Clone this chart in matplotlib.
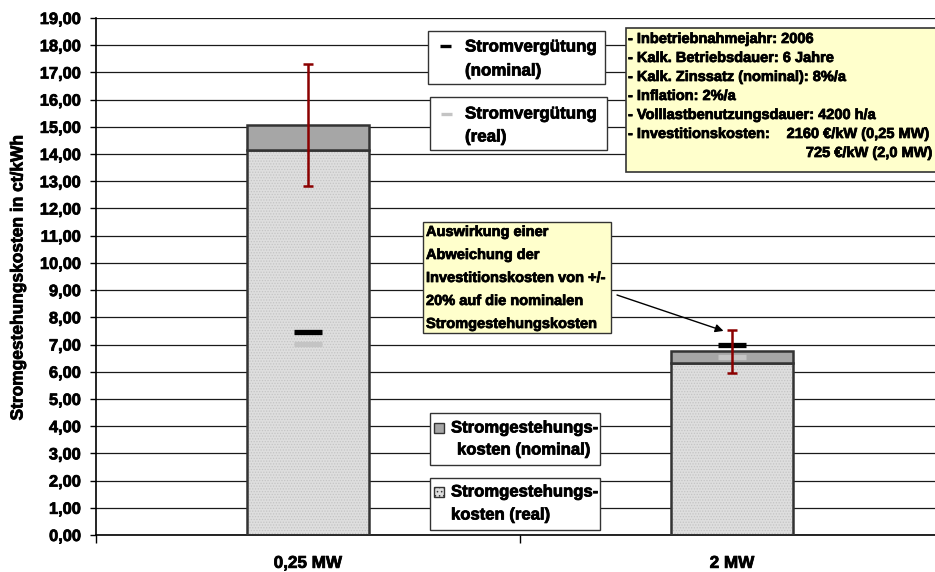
import os, glob
import matplotlib
matplotlib.use("Agg")
import matplotlib.pyplot as plt
from matplotlib import font_manager as fm
from matplotlib import patheffects as pe
from matplotlib.patches import Rectangle
from matplotlib.lines import Line2D
from matplotlib.ticker import FuncFormatter, FixedLocator

# ---- find a bold Arial-like font file ----
def find_bold():
    for name in ['Liberation Sans', 'Arimo', 'Noto Sans', 'Roboto', 'Open Sans', 'Lato', 'Inter']:
        for f in fm.fontManager.ttflist:
            b = os.path.basename(f.fname).lower()
            if f.name == name and 'bold' in b and 'italic' not in b and 'oblique' not in b \
                    and 'semi' not in b and 'extra' not in b:
                return f.fname
    for pat in ['/usr/share/fonts/**/LiberationSans-Bold.ttf', '/usr/share/fonts/**/*Bold.ttf']:
        g = glob.glob(pat, recursive=True)
        if g:
            return g[0]
    return None

BOLD_PATH = find_bold()

def fp(size):
    if BOLD_PATH:
        return fm.FontProperties(fname=BOLD_PATH, size=size)
    return fm.FontProperties(family='DejaVu Sans', weight='bold', size=size)

HEAVY = [pe.Stroke(linewidth=0.55, foreground='black'), pe.Normal()]

plt.rcParams['hatch.linewidth'] = 0.6

# ---- data ----
categories = ["0,25 MW", "2 MW"]
real_costs = [14.15, 6.33]          # Stromgestehungskosten (real)
nominal_costs = [15.08, 6.75]       # Stromgestehungskosten (nominal)
payment_nominal = [7.45, 6.97]      # Stromvergütung (nominal)
payment_real = [7.01, 6.54]         # Stromvergütung (real)
invest_dev = [2.24, 0.80]           # +/- 20 % Investitionskosten
y_ticks = list(range(0, 20))

W, H = 935, 572
fig = plt.figure(figsize=(W / 100, H / 100), dpi=100)
ax = fig.add_axes([96 / W, 37 / H, 848 / W, 517 / H])

x = [0.5, 1.5]
bw = 0.29
dark = '#333333'

# grid
for t in y_ticks:
    ax.axhline(t, color='#1a1a1a', lw=0.9, zorder=0)

# real part (hatched)
ax.bar(x, real_costs, width=bw, color='#dedede', edgecolor='#c4c4c4',
       hatch='......', linewidth=0, zorder=2)
ax.bar(x, real_costs, width=bw, fill=False, edgecolor=dark, linewidth=1.8, zorder=3)
# nominal part on top
diff = [n - r for n, r in zip(nominal_costs, real_costs)]
ax.bar(x, diff, bottom=real_costs, width=bw, color='#a6a6a6', edgecolor=dark,
       linewidth=1.8, zorder=3)

# Stromvergütung markers
ax.plot(x, payment_real, linestyle='none', marker='_', markersize=20,
        markeredgewidth=3.8, color='#c4c4c4', zorder=4)
ax.plot(x, payment_nominal, linestyle='none', marker='_', markersize=20,
        markeredgewidth=3.8, color='black', zorder=5)

# error bars
ax.errorbar(x, nominal_costs, yerr=invest_dev, fmt='none', ecolor='#8b0000',
            elinewidth=1.8, capsize=3.3, capthick=1.8, zorder=6)

ax.set_xlim(0, 2)
ax.set_ylim(0, 19)
for s in ['top', 'right']:
    ax.spines[s].set_visible(False)
ax.spines['left'].set_color('black')
ax.spines['bottom'].set_color('black')
ax.spines['left'].set_linewidth(1.2)
ax.spines['bottom'].set_linewidth(1.2)

ax.set_yticks(y_ticks)
ax.yaxis.set_major_formatter(FuncFormatter(lambda v, p: f"{v:.2f}".replace('.', ',')))
ax.tick_params(axis='y', direction='out', length=4.5, width=1, pad=6.5, color='black')
ax.xaxis.set_major_locator(FixedLocator([0, 1, 2]))
ax.xaxis.set_minor_locator(FixedLocator(x))
ax.set_xticklabels([], minor=False)
ax.set_xticklabels(categories, minor=True)
ax.tick_params(axis='x', which='major', direction='out', length=6, width=1, color='black')
ax.tick_params(axis='x', which='minor', length=0, pad=15)
for lab in ax.get_yticklabels():
    lab.set_fontproperties(fp(11.8))
    lab.set_path_effects(HEAVY)
for lab in ax.get_xticklabels(minor=True):
    lab.set_fontproperties(fp(12.3))
    lab.set_path_effects(HEAVY)

# helpers in pixel coordinates
def prect(x0, y0, x1, y1, **kw):
    r = Rectangle((x0 / W, 1 - y1 / H), (x1 - x0) / W, (y1 - y0) / H,
                  transform=fig.transFigure, **kw)
    fig.add_artist(r)
    return r

def ptext(xp, yp, s, size, **kw):
    kw.setdefault('va', 'center')
    kw.setdefault('ha', 'left')
    t = fig.text(xp / W, 1 - yp / H, s, fontproperties=fp(size), **kw)
    t.set_path_effects(HEAVY)
    return t

def pline(x0, x1, yp, **kw):
    fig.add_artist(Line2D([x0 / W, x1 / W], [1 - yp / H, 1 - yp / H],
                          transform=fig.transFigure, **kw))

# y label
ptext(18, 277, "Stromgestehungskosten in ct/kWh", 12.5, rotation=90, ha='center')

# legend boxes (Stromvergütung)
prect(428, 31, 605, 84, facecolor='white', edgecolor=dark, lw=1, zorder=10)
pline(440, 451, 46, color='black', lw=2.4, zorder=11, solid_capstyle='butt')
ptext(465, 47, "Stromvergütung", 12.2, zorder=11)
ptext(465, 71, "(nominal)", 12.2, zorder=11)

prect(430, 97, 607, 150, facecolor='white', edgecolor=dark, lw=1, zorder=10)
pline(441, 452, 114, color='#c4c4c4', lw=2.4, zorder=11, solid_capstyle='butt')
ptext(465, 114, "Stromvergütung", 12.2, zorder=11)
ptext(465, 137, "(real)", 12.2, zorder=11)

# legend boxes (Stromgestehungskosten)
prect(430, 413, 600, 465, facecolor='white', edgecolor=dark, lw=1, zorder=10)
prect(434, 423, 444, 433, facecolor='#a6a6a6', edgecolor=dark, lw=1, zorder=11)
ptext(451, 428, "Stromgestehungs-", 12, zorder=11)
ptext(457, 450, "kosten (nominal)", 12, zorder=11)

prect(430, 478, 600, 530, facecolor='white', edgecolor=dark, lw=1, zorder=10)
prect(434, 487, 444, 497, facecolor='#dedede', edgecolor=dark, lw=1,
      hatch='....', zorder=11)
ptext(451, 492, "Stromgestehungs-", 12, zorder=11)
ptext(451, 515, "kosten (real)", 12, zorder=11)

# info box
prect(626, 28, 965, 172, facecolor='#ffffcc', edgecolor=dark, lw=1.2, zorder=10)
info = ["- Inbetriebnahmejahr: 2006",
        "- Kalk. Betriebsdauer: 6 Jahre",
        "- Kalk. Zinssatz (nominal): 8%/a",
        "- Inflation: 2%/a",
        "- Volllastbenutzungsdauer: 4200 h/a",
        "- Investitionskosten:"]
for i, s in enumerate(info):
    ptext(628, 39 + 19 * i, s, 10.5, zorder=11)
ptext(930, 134, "2160 €/kW (0,25 MW)", 10.5, ha='right', zorder=11)
ptext(933, 153, "725 €/kW (2,0 MW)", 10.5, ha='right', zorder=11)

# annotation box
prect(423, 222, 611, 333, facecolor='#ffffcc', edgecolor=dark, lw=1, zorder=10)
ann = ["Auswirkung einer", "Abweichung der", "Investitionskosten von +/-",
       "20% auf die nominalen", "Stromgestehungskosten"]
for i, s in enumerate(ann):
    ptext(426, 232 + 23 * i, s, 10.5, zorder=11)

# arrow to the 2 MW error bar
ax.annotate("", xy=(x[1] - 0.02, nominal_costs[1] + 0.75),
            xytext=(617 / W, 1 - 295 / H), textcoords='figure fraction',
            arrowprops=dict(arrowstyle='-|>', color='black', lw=1,
                            mutation_scale=12, shrinkA=0, shrinkB=0),
            zorder=12)

fig.savefig("out.png", dpi=100)
